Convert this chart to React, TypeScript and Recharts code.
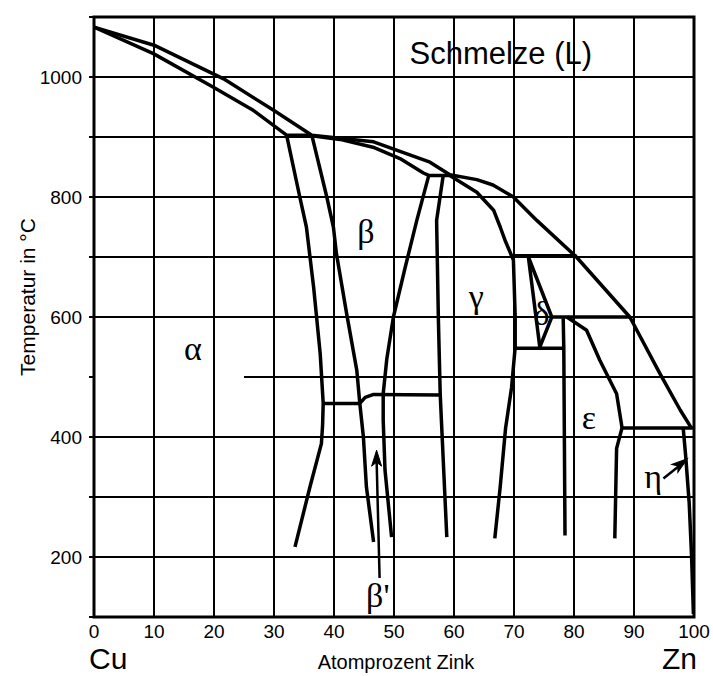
import { ComposedChart, Line, XAxis, YAxis, ReferenceLine, ReferenceArea, Scatter } from 'recharts';

// Cu-Zn Zustandsdiagramm; x = Atomprozent Zink, t = Temperatur in °C
const xTicks = [0, 10, 20, 30, 40, 50, 60, 70, 80, 90, 100];
const yTicks = [100, 200, 300, 400, 500, 600, 700, 800, 900, 1000, 1100];
const yLabelled = [200, 400, 600, 800, 1000];
const gridX = [10, 20, 30, 40, 50, 60, 70, 80, 90];
const gridY = [200, 300, 400, 600, 700, 800, 900, 1000];

const liquidus = [
    { x: 0, t: 1083 }, { x: 10, t: 1053 }, { x: 21.6, t: 997 }, { x: 30, t: 944 }, { x: 36.3, t: 903 },
    { x: 41, t: 898 }, { x: 46.6, t: 892 }, { x: 51, t: 876 }, { x: 56, t: 858 }, { x: 59.3, t: 837 },
    { x: 63.8, t: 829 }, { x: 66.5, t: 820 }, { x: 69.9, t: 800 }, { x: 73.8, t: 761 }, { x: 80.4, t: 700 },
    { x: 89.3, t: 600 }, { x: 94.3, t: 506 }, { x: 97.7, t: 445 }, { x: 99.5, t: 416 },
];
const alphaSolidus = [
    { x: 0, t: 1083 }, { x: 9.9, t: 1039 }, { x: 19.9, t: 983 }, { x: 26.6, t: 944 }, { x: 32.1, t: 903 }, { x: 36.3, t: 903 },
];
const betaSolidus = [
    { x: 36.3, t: 902 }, { x: 41, t: 896 }, { x: 46.5, t: 883 }, { x: 51, t: 864 }, { x: 54.9, t: 840 },
    { x: 55.8, t: 836 }, { x: 59.3, t: 836 },
];
const alphaBoundary = [
    { x: 32.1, t: 903 }, { x: 34.3, t: 800 }, { x: 35.4, t: 750 }, { x: 36.6, t: 650 }, { x: 37.7, t: 539 },
    { x: 38.2, t: 456 }, { x: 38.1, t: 420 }, { x: 37.9, t: 389 }, { x: 36, t: 317 }, { x: 33.5, t: 217 },
];
const betaLeft = [
    { x: 36.3, t: 903 }, { x: 38.8, t: 800 }, { x: 39.9, t: 750 }, { x: 40.4, t: 706 }, { x: 42.1, t: 606 },
    { x: 43.8, t: 511 }, { x: 44.3, t: 456 }, { x: 44.9, t: 400 }, { x: 45.4, t: 317 }, { x: 46.6, t: 225 },
];
const tie456 = [{ x: 38.2, t: 456 }, { x: 44.3, t: 456 }];
const orderLine = [{ x: 44.3, t: 456 }, { x: 45.2, t: 466 }, { x: 46.6, t: 471 }, { x: 57.7, t: 470 }];
const betaRight = [
    { x: 55.8, t: 836 }, { x: 53.8, t: 761 }, { x: 51.8, t: 680 }, { x: 49.9, t: 600 }, { x: 48.8, t: 530 },
    { x: 48.2, t: 472 }, { x: 48.2, t: 428 }, { x: 48.5, t: 345 }, { x: 49.6, t: 233 },
];
const gammaLeft = [
    { x: 58.2, t: 836 }, { x: 57.1, t: 761 }, { x: 57.4, t: 595 }, { x: 57.7, t: 472 }, { x: 57.9, t: 428 }, { x: 58.8, t: 233 },
];
const gammaRight = [
    { x: 59.3, t: 836 }, { x: 63.8, t: 808 }, { x: 66.6, t: 778 }, { x: 67.7, t: 750 }, { x: 68.5, t: 728 },
    { x: 69.9, t: 695 }, { x: 70.2, t: 600 }, { x: 70.2, t: 550 }, { x: 69.6, t: 483 }, { x: 68.6, t: 415 },
    { x: 67.7, t: 317 }, { x: 66.8, t: 231 },
];
const tie700 = [{ x: 69.3, t: 702 }, { x: 80.4, t: 702 }];
const deltaLeft = [{ x: 72.4, t: 700 }, { x: 74.3, t: 550 }];
const deltaRight = [{ x: 72.4, t: 700 }, { x: 76.3, t: 600 }, { x: 74.3, t: 550 }];
const tie600 = [{ x: 76.3, t: 600 }, { x: 89.3, t: 600 }];
const tie550 = [{ x: 70.2, t: 548 }, { x: 78.2, t: 548 }];
const epsLeft = [{ x: 78.2, t: 598 }, { x: 78.3, t: 548 }, { x: 78.5, t: 236 }];
const epsRight = [
    { x: 78.8, t: 600 }, { x: 82.1, t: 578 }, { x: 84.3, t: 528 }, { x: 87.1, t: 472 }, { x: 87.9, t: 422 },
    { x: 88, t: 415 }, { x: 87.1, t: 381 }, { x: 86.8, t: 231 },
];
const tie415 = [{ x: 88, t: 415 }, { x: 99.9, t: 415 }];
const etaBoundary = [{ x: 98.2, t: 415 }, { x: 98.6, t: 370 }, { x: 99.2, t: 290 }, { x: 99.6, t: 200 }, { x: 99.9, t: 105 }];
const betaPrimeArrow = [{ x: 47.6, t: 165 }, { x: 47.1, t: 362 }];
const etaArrow = [{ x: 94.9, t: 331 }, { x: 98.3, t: 358 }];
const arrowTips = [
    { x: 47.1, t: 378, angle: -90 },
    { x: 98.9, t: 364, angle: -38 },
];

const phaseLabels = [
    { x: 45.3, t: 743, text: 'β' },
    { x: 16.5, t: 548, text: 'α' },
    { x: 63.7, t: 634, text: 'γ' },
    { x: 74.6, t: 606, text: 'δ' },
    { x: 82.5, t: 433, text: 'ε' },
    { x: 93.2, t: 334, text: 'η' },
    { x: 47.3, t: 136, text: "β'" },
];
const meltLabel = [{ x: 67.8, t: 1040, text: 'Schmelze (L)' }];

const boundaries = [
    liquidus, alphaSolidus, betaSolidus, alphaBoundary, betaLeft, tie456, orderLine, betaRight,
    gammaLeft, gammaRight, tie700, deltaLeft, deltaRight, tie600, tie550, epsLeft, epsRight, tie415,
    etaBoundary,
];

const sans = '"Liberation Sans", Arial, sans-serif';
const serif = '"Liberation Serif", "Times New Roman", serif';

function GreekLabel(props: any) {
    const { cx, cy, payload } = props;
    return (
        <text x={cx} y={cy} textAnchor="middle" dominantBaseline="central" fontFamily={serif} fontSize={34} fill="#000">
            {payload.text}
        </text>
    );
}

function MeltLabel(props: any) {
    const { cx, cy, payload } = props;
    return (
        <text x={cx} y={cy} textAnchor="middle" dominantBaseline="central" fontFamily={sans} fontSize={31} fill="#000">
            {payload.text}
        </text>
    );
}

function ArrowHead(props: any) {
    const { cx, cy, payload } = props;
    return (
        <path
            d="M0,0 L-16,-5 L-12,0 L-16,5 Z"
            transform={`translate(${cx},${cy}) rotate(${payload.angle})`}
            fill="#000"
            stroke="#000"
            strokeWidth={1}
        />
    );
}

export default function App() {
    return (
        <div style={{ position: 'absolute', left: 0, top: 0, width: 713, height: 676, background: '#fff', fontFamily: sans }}>
            <ComposedChart width={713} height={676} margin={{ top: 17, right: 19, left: 0, bottom: 29 }}>
                <XAxis
                    type="number"
                    dataKey="x"
                    domain={[0, 100]}
                    ticks={xTicks}
                    axisLine={false}
                    tickLine={false}
                    tickSize={0}
                    tickMargin={8}
                    height={30}
                    tick={{ fontSize: 19, fill: '#000', fontFamily: sans }}
                    allowDataOverflow
                />
                <YAxis
                    type="number"
                    dataKey="t"
                    domain={[100, 1100]}
                    ticks={yTicks}
                    width={94}
                    axisLine={false}
                    tickLine={{ stroke: '#000', strokeWidth: 2 }}
                    tickSize={5}
                    tickMargin={7}
                    tickFormatter={(v: number) => (yLabelled.includes(v) ? String(v) : '')}
                    tick={{ fontSize: 19, fill: '#000', fontFamily: sans }}
                    allowDataOverflow
                />
                {gridX.map(v => (
                    <ReferenceLine key={'gx' + v} x={v} stroke="#000" strokeWidth={2} />
                ))}
                {gridY.map(v => (
                    <ReferenceLine key={'gy' + v} y={v} stroke="#000" strokeWidth={2} />
                ))}
                <ReferenceLine segment={[{ x: 25, y: 500 }, { x: 100, y: 500 }]} stroke="#000" strokeWidth={2} />
                <ReferenceArea x1={0} x2={100} y1={100} y2={1100} fill="none" stroke="#000" strokeWidth={3} />
                {boundaries.map((d, i) => (
                    <Line
                        key={'b' + i}
                        data={d}
                        dataKey="t"
                        type="linear"
                        stroke="#000"
                        strokeWidth={3.5}
                        strokeLinejoin="round"
                        dot={false}
                        activeDot={false}
                        isAnimationActive={false}
                    />
                ))}
                <Line data={betaPrimeArrow} dataKey="t" type="linear" stroke="#000" strokeWidth={2.5} dot={false} activeDot={false} isAnimationActive={false} />
                <Line data={etaArrow} dataKey="t" type="linear" stroke="#000" strokeWidth={2.5} dot={false} activeDot={false} isAnimationActive={false} />
                <Scatter data={arrowTips} dataKey="t" shape={<ArrowHead />} isAnimationActive={false} />
                <Scatter data={phaseLabels} dataKey="t" shape={<GreekLabel />} isAnimationActive={false} />
                <Scatter data={meltLabel} dataKey="t" shape={<MeltLabel />} isAnimationActive={false} />
            </ComposedChart>
            <div style={{ position: 'absolute', left: 89, top: 645, fontSize: 30, lineHeight: '28px' }}>Cu</div>
            <div style={{ position: 'absolute', left: 662, top: 645, fontSize: 30, lineHeight: '28px' }}>Zn</div>
            <div style={{ position: 'absolute', left: 396, top: 662, transform: 'translate(-50%, -50%)', fontSize: 20, whiteSpace: 'nowrap' }}>
                Atomprozent Zink
            </div>
            <div style={{ position: 'absolute', left: 28, top: 297, transform: 'translate(-50%, -50%) rotate(-90deg)', fontSize: 21, whiteSpace: 'nowrap' }}>
                Temperatur in °C
            </div>
        </div>
    );
}
